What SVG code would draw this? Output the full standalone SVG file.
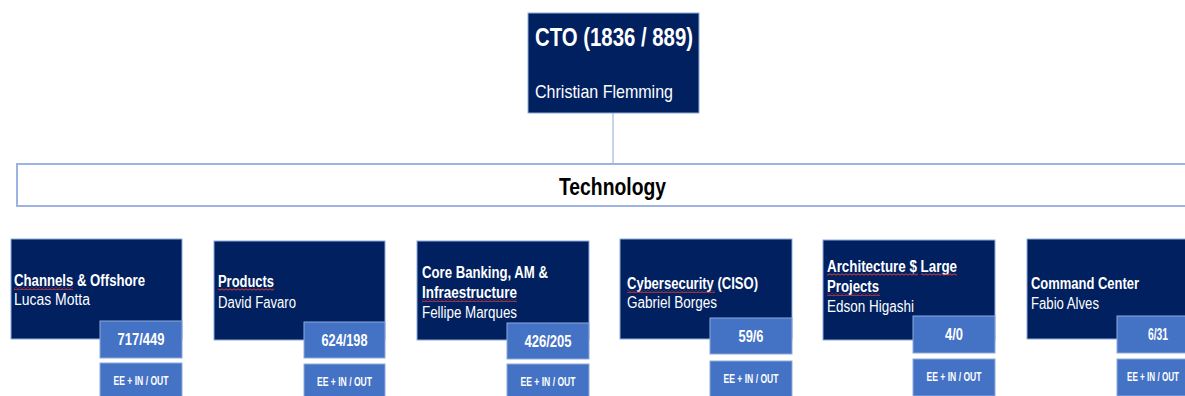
<svg xmlns="http://www.w3.org/2000/svg" width="1185" height="396" viewBox="0 0 1185 396">
<style>
.dark{fill:#002060;stroke:#8EA9DB;stroke-width:1}
.num{fill:#4472C4;stroke:#8EA9DB;stroke-width:1}
.t{font-family:"Liberation Sans",Arial,sans-serif;fill:#FFFFFF}
.b{font-weight:bold}
.ttl{font-size:16px;font-weight:bold}
.nm{font-size:16px}
.nv{font-size:16px;font-weight:bold;text-anchor:middle}
.ee{font-size:12px;font-weight:bold;text-anchor:middle}
.conn{stroke:#8EA9DB;stroke-width:1;fill:none}
.sq{fill:url(#squiggle)}
</style>
<defs>
<pattern id="squiggle" x="0" y="0" width="4" height="3" patternUnits="userSpaceOnUse">
<path d="M0,2.2 L2,0.8 L4,2.2" stroke="#E03C3C" stroke-width="1" fill="none"/>
</pattern>
</defs>
<g id="connectors">
<line class="conn" x1="613" y1="113" x2="613" y2="164"/>
</g>
<g id="cto">
<rect class="dark" x="528" y="13" width="171" height="100"/>
<text class="t b" x="535" y="46" font-size="25" textLength="158" lengthAdjust="spacingAndGlyphs">CTO (1836 / 889)</text>
<text class="t" x="535" y="98" font-size="19" textLength="138" lengthAdjust="spacingAndGlyphs">Christian Flemming</text>
</g>
<g id="technology">
<rect x="17" y="164" width="1180" height="42" fill="#FFFFFF" stroke="#9DB3E3" stroke-width="2"/>
<text x="559" y="195" font-family="'Liberation Sans',Arial,sans-serif" font-weight="bold" font-size="24" fill="#000000" textLength="107" lengthAdjust="spacingAndGlyphs">Technology</text>
</g>
<g id="channels">
<rect class="dark" x="11" y="239" width="171" height="100"/>
<text class="t ttl" x="14" y="286" textLength="131" lengthAdjust="spacingAndGlyphs">Channels &amp; Offshore</text>
<rect class="sq" x="14" y="287" width="59" height="3"/>
<text class="t nm" x="14" y="305" textLength="76" lengthAdjust="spacingAndGlyphs">Lucas Motta</text>
<rect class="num" x="100" y="321" width="82" height="37"/>
<text class="t nv" x="141" y="345" textLength="47" lengthAdjust="spacingAndGlyphs">717/449</text>
<rect class="num" x="100" y="363" width="82" height="37"/>
<text class="t ee" x="141" y="385" textLength="55" lengthAdjust="spacingAndGlyphs">EE + IN / OUT</text>
</g>
<g id="products">
<rect class="dark" x="214" y="241" width="171" height="99"/>
<text class="t ttl" x="218" y="287" textLength="56" lengthAdjust="spacingAndGlyphs">Products</text>
<rect class="sq" x="218" y="288" width="56" height="3"/>
<text class="t nm" x="218" y="308" textLength="78" lengthAdjust="spacingAndGlyphs">David Favaro</text>
<rect class="num" x="304" y="322" width="81" height="36"/>
<text class="t nv" x="344.5" y="346" textLength="46" lengthAdjust="spacingAndGlyphs">624/198</text>
<rect class="num" x="304" y="364" width="81" height="37"/>
<text class="t ee" x="344.5" y="386" textLength="55" lengthAdjust="spacingAndGlyphs">EE + IN / OUT</text>
</g>
<g id="corebanking">
<rect class="dark" x="417" y="241" width="172" height="99"/>
<text class="t ttl" x="422" y="278" textLength="126" lengthAdjust="spacingAndGlyphs">Core Banking, AM &amp;</text>
<text class="t ttl" x="422" y="298" textLength="95" lengthAdjust="spacingAndGlyphs">Infraestructure</text>
<rect class="sq" x="422" y="299" width="95" height="3"/>
<text class="t nm" x="422" y="318" textLength="95" lengthAdjust="spacingAndGlyphs">Fellipe Marques</text>
<rect class="num" x="507" y="323" width="82" height="36"/>
<text class="t nv" x="548" y="347" textLength="47" lengthAdjust="spacingAndGlyphs">426/205</text>
<rect class="num" x="507" y="364" width="82" height="37"/>
<text class="t ee" x="548" y="386" textLength="55" lengthAdjust="spacingAndGlyphs">EE + IN / OUT</text>
</g>
<g id="cybersecurity">
<rect class="dark" x="620" y="239" width="172" height="100"/>
<text class="t ttl" x="627" y="289" textLength="131" lengthAdjust="spacingAndGlyphs">Cybersecurity (CISO)</text>
<rect class="sq" x="627" y="290" width="88" height="3"/>
<text class="t nm" x="627" y="308" textLength="90" lengthAdjust="spacingAndGlyphs">Gabriel Borges</text>
<rect class="num" x="710" y="318" width="82" height="36"/>
<text class="t nv" x="751" y="342" textLength="25" lengthAdjust="spacingAndGlyphs">59/6</text>
<rect class="num" x="710" y="361" width="82" height="37"/>
<text class="t ee" x="751" y="383" textLength="55" lengthAdjust="spacingAndGlyphs">EE + IN / OUT</text>
</g>
<g id="architecture">
<rect class="dark" x="823" y="240" width="172" height="100"/>
<text class="t ttl" x="827" y="272" textLength="130" lengthAdjust="spacingAndGlyphs">Architecture $ Large</text>
<rect class="sq" x="827" y="273" width="91" height="3"/>
<rect class="sq" x="921" y="273" width="36" height="3"/>
<text class="t ttl" x="827" y="292" textLength="52" lengthAdjust="spacingAndGlyphs">Projects</text>
<rect class="sq" x="827" y="293" width="53" height="3"/>
<text class="t nm" x="827" y="312" textLength="87" lengthAdjust="spacingAndGlyphs">Edson Higashi</text>
<rect class="num" x="913" y="316" width="82" height="37"/>
<text class="t nv" x="954" y="340" textLength="18" lengthAdjust="spacingAndGlyphs">4/0</text>
<rect class="num" x="913" y="359" width="82" height="37"/>
<text class="t ee" x="954" y="381" textLength="55" lengthAdjust="spacingAndGlyphs">EE + IN / OUT</text>
</g>
<g id="commandcenter">
<rect class="dark" x="1027" y="239" width="172" height="100"/>
<text class="t ttl" x="1031" y="289" textLength="108" lengthAdjust="spacingAndGlyphs">Command Center</text>
<text class="t nm" x="1031" y="309" textLength="68" lengthAdjust="spacingAndGlyphs">Fabio Alves</text>
<rect class="num" x="1117" y="316" width="82" height="37"/>
<text class="t nv" x="1158" y="340" textLength="20" lengthAdjust="spacingAndGlyphs">6/31</text>
<rect class="num" x="1117" y="359" width="82" height="37"/>
<text class="t ee" x="1153" y="381" textLength="52" lengthAdjust="spacingAndGlyphs">EE + IN / OUT</text>
</g>
</svg>
